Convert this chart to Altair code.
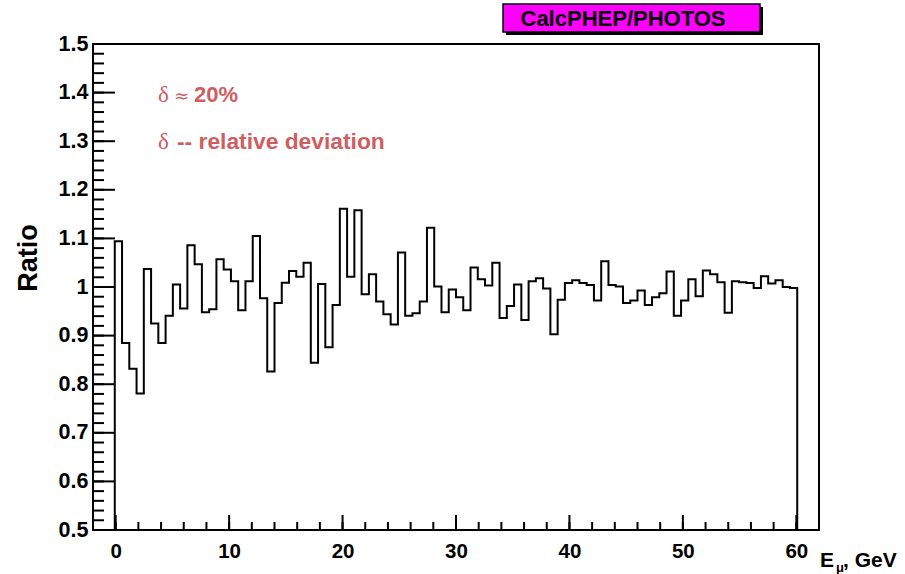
import altair as alt
import pandas as pd

# ---- data ----
X_MIN, X_MAX, N_BINS = -2.0, 62.0, 100
ratio = [1.094, 0.885, 0.832, 0.781, 1.037, 0.925, 0.885, 0.941, 1.005, 0.956,
         1.086, 1.047, 0.948, 0.954, 1.057, 1.036, 1.012, 0.952, 1.012, 1.105,
         0.977, 0.826, 0.967, 1.009, 1.033, 1.021, 1.050, 0.844, 1.006, 0.876,
         0.963, 1.161, 1.021, 1.158, 0.985, 1.026, 0.970, 0.944, 0.923, 1.071,
         0.941, 0.946, 0.970, 1.122, 1.001, 0.948, 0.995, 0.979, 0.952, 1.040,
         1.016, 1.003, 1.050, 0.936, 0.961, 1.005, 0.932, 1.012, 1.018, 0.997,
         0.903, 0.974, 1.008, 1.014, 1.008, 1.004, 0.972, 1.053, 1.004, 1.001,
         0.967, 0.972, 0.993, 0.963, 0.979, 0.987, 1.032, 0.941, 0.972, 1.016,
         0.981, 1.034, 1.026, 1.010, 0.947, 1.012, 1.010, 1.008, 0.998, 1.022,
         1.007, 1.014, 1.000, 0.998]
empty_low = [0.0, 0.0, 0.0]
empty_high = [0.0, 0.0, 0.0]

x_major = [0, 10, 20, 30, 40, 50, 60]
x_minor = [-2, 0, 2, 4, 6, 8, 10, 12, 14, 16, 18, 20, 22, 24, 26, 28, 30, 32, 34, 36,
           38, 40, 42, 44, 46, 48, 50, 52, 54, 56, 58, 60, 62]
y_major = [0.5, 0.6, 0.7, 0.8, 0.9, 1.0, 1.1, 1.2, 1.3, 1.4, 1.5]
y_minor = [round(0.5 + 0.02 * k, 2) for k in range(51)]

title_text = "CalcPHEP/PHOTOS"
note1 = "20%"
note2 = "-- relative deviation"

# ---- geometry ----
W, H = 726, 486
RED = "#cf5e61"
SANS = "Liberation Sans"

contents = empty_low + ratio + empty_high
width = (X_MAX - X_MIN) / N_BINS
edges = [X_MIN + width * k for k in range(N_BINS)]
hist = pd.DataFrame({"x": edges + [X_MAX], "y": contents + [contents[-1]]})

xs = alt.Scale(domain=[X_MIN, X_MAX], nice=False, zero=False)
ys = alt.Scale(domain=[0.5, 1.5], nice=False, zero=False)
xaxis = alt.Axis(values=x_major, format="d", ticks=False, domain=False, grid=False,
                 labelFont=SANS, labelFontWeight="bold", labelFontSize=20.5,
                 labelColor="black", labelPadding=11, title=None)
yaxis = alt.Axis(values=y_major, format=".1~f", ticks=False, domain=False, grid=False,
                 labelFont=SANS, labelFontWeight="bold", labelFontSize=21.5,
                 labelColor="black", labelPadding=5, title=None)

line = alt.Chart(hist).mark_line(
    interpolate="step-after", color="black", strokeWidth=2, clip=True
).encode(
    x=alt.X("x:Q", scale=xs, axis=xaxis),
    y=alt.Y("y:Q", scale=ys, axis=yaxis),
)

xmaj = alt.Chart(pd.DataFrame({"x": x_major})).mark_rule(color="black", strokeWidth=2).encode(
    x=alt.X("x:Q", scale=xs, axis=xaxis), y=alt.value(H), y2=alt.value(H - 15))
xmin = alt.Chart(pd.DataFrame({"x": x_minor})).mark_rule(color="black", strokeWidth=2).encode(
    x=alt.X("x:Q", scale=xs, axis=xaxis), y=alt.value(H), y2=alt.value(H - 8))
ymaj = alt.Chart(pd.DataFrame({"y": y_major})).mark_rule(color="black", strokeWidth=2).encode(
    y=alt.Y("y:Q", scale=ys, axis=yaxis), x=alt.value(0), x2=alt.value(22))
ymin = alt.Chart(pd.DataFrame({"y": y_minor})).mark_rule(color="black", strokeWidth=2).encode(
    y=alt.Y("y:Q", scale=ys, axis=yaxis), x=alt.value(0), x2=alt.value(11))

def txt(text, x, y, size, font=SANS, weight="bold", color="black", align="left",
        baseline="alphabetic", angle=0):
    return alt.Chart(pd.DataFrame({"t": [text]})).mark_text(
        font=font, fontWeight=weight, fontSize=size, color=color, align=align,
        baseline=baseline, angle=angle
    ).encode(text="t:N", x=alt.value(x), y=alt.value(y))

# title box
shadow = alt.Chart(pd.DataFrame({"a": [0]})).mark_rect(color="black").encode(
    x=alt.value(413), x2=alt.value(670), y=alt.value(-37), y2=alt.value(-9))
box = alt.Chart(pd.DataFrame({"a": [0]})).mark_rect(
    fill="#ff00ff", stroke="black", strokeWidth=1.5).encode(
    x=alt.value(410), x2=alt.value(667), y=alt.value(-40), y2=alt.value(-12))
box_text = txt(title_text, 530, -25, 22, align="center", baseline="middle")

ylabel = txt("Ratio", -64, 214, 27, align="center", baseline="middle", angle=270)
e_main = txt("E", 727, 523, 21)
e_sub = txt("μ", 743, 528, 13)
e_rest = txt(", GeV", 750, 523, 21)

d1 = txt("δ", 65, 58, 23, font="Liberation Serif", weight="normal", color=RED)
ap = txt("≈", 81, 58, 18, font="DejaVu Serif", weight="normal", color=RED)
n1 = txt(note1, 101, 58, 22, color=RED)
d2 = txt("δ", 65, 105, 23, font="Liberation Serif", weight="normal", color=RED)
n2 = txt(note2, 84, 105, 22.8, color=RED)

chart = alt.layer(
    line, xmaj, xmin, ymaj, ymin, shadow, box, box_text, ylabel,
    e_main, e_sub, e_rest, d1, ap, n1, d2, n2
).properties(
    width=W, height=H,
    autosize=alt.AutoSizeParams(type="none"),
    padding={"left": 93, "top": 44, "right": 86, "bottom": 44},
    background="white",
).configure_view(stroke="black", strokeWidth=2)

chart.save("out.html", embed_options={"renderer": "svg", "actions": False})
